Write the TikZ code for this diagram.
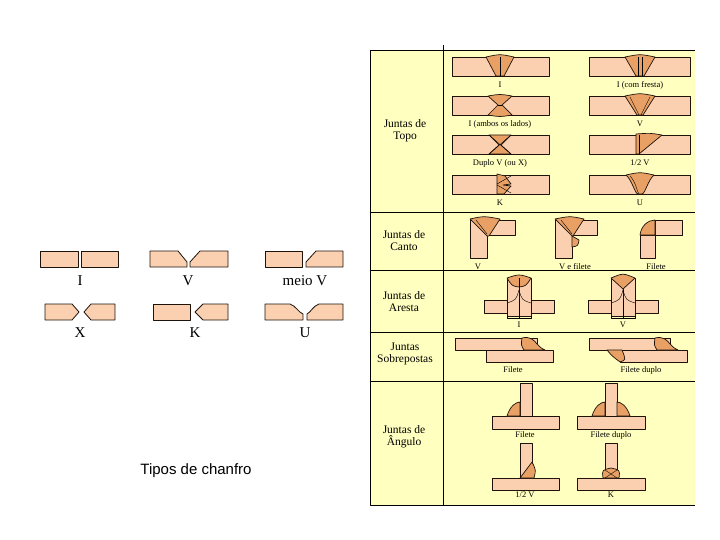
\documentclass[tikz,border=0pt]{standalone}
\usepackage{fontspec}
\setmainfont{Liberation Serif}
\newfontfamily\capfont{Liberation Sans}
\begin{document}
\begin{tikzpicture}[x=1pt,y=-1pt,line join=round,
  plate/.style={draw=black!85!brown,line width=0.8pt,fill=platec},
  weld/.style={draw=black!85!brown,line width=0.7pt,fill=weldc},
  lbl/.style={font=\fontsize{8.5}{9}\selectfont,inner sep=0pt},
  big/.style={font=\fontsize{15}{16}\selectfont,inner sep=0pt},
  head/.style={font=\fontsize{11.5}{12}\selectfont,align=center,inner sep=0pt}]
\definecolor{platec}{RGB}{250,208,176}
\definecolor{weldc}{RGB}{232,160,100}
\definecolor{tab}{RGB}{255,255,192}
\useasboundingbox (0,0) rectangle (720,540);
\fill[white] (0,0) rectangle (720,540);
% table
\fill[tab] (370,50) rectangle (695,505);
\draw[line width=0.8pt] (443,45) -- (443,505);
\draw[line width=0.8pt] (370,50) -- (695,50);
\draw[line width=0.8pt] (370,50) -- (370,505) -- (695,505);
\foreach \y in {212,270,332,381} \draw[line width=0.8pt] (370,\y) -- (695,\y);
\node[head] (h1) at (405,131) {Juntas de\\Topo};
\node[head] (h2) at (404,241) {Juntas de\\Canto};
\node[head] (h3) at (404,302) {Juntas de\\Aresta};
\node[head] (h4) at (405,354) {Juntas\\Sobrepostas};
\node[head] (h5) at (404,437) {Juntas de\\Ângulo};
% ---- Topo
\foreach \y in {57,96,135,175}{
  \draw[plate] (452,\y) rectangle (549,\y+19);
  \draw[plate] (589,\y) rectangle (690,\y+19);}
% I
\draw[weld] (486,57) .. controls (500,54) .. (514,57) -- (504,76) -- (496,76) -- cycle; \draw (500,57)--(500,76);
% I com fresta
\draw[weld] (625,57) .. controls (640,54) .. (655,57) -- (644,76) -- (636,76) -- cycle; \draw (638,57)--(638,76) (642,57)--(642,76);
% I ambos
\draw[weld] (488,96) .. controls (500,94) .. (512,96) -- (502,105) -- (512,115) .. controls (500,117) .. (488,115) -- (498,105) -- cycle;
\draw (498,105)..controls (500,104.5)..(502,105);
% V
\draw[weld] (625,96) .. controls (640,93) .. (655,96) -- (643,115) -- (637,115) -- cycle; \draw (630,97)--(639,115) (650,97)--(641,115);
% Duplo V
\draw[weld] (489,135) -- (511,135) -- (501,145) -- (511,154) -- (489,154) -- (499,145) -- cycle; \draw (489,135)--(511,154) (511,135)--(489,154);
% 1/2 V
\draw[weld] (636,134) .. controls (650,133) .. (662,135) -- (639,154) -- (636,154) -- cycle; \draw (639,135)--(639,154);
% K
\draw[weld] (497,174) -- (505,176) -- (511,184) -- (503,185) -- (511,186) -- (504,194) -- (497,194) -- cycle; \draw (497,184)--(511,176) (497,185)--(511,193);
% U
\draw[weld] (626,175) .. controls (640,172) .. (654,175) .. controls (648,180) and (645,194) .. (642,194) -- (638,194) .. controls (635,194) and (632,180) .. (626,175);
\draw (630,176) .. controls (636,182) and (637,192) .. (639,194);
\node[lbl] (t1) at (500,85) {I};
\node[lbl] (t2) at (640,85) {I (com fresta)};
\node[lbl] (t3) at (500,124) {I (ambos os lados)};
\node[lbl] (t4) at (640,124) {V};
\node[lbl] (t5) at (500,163) {Duplo V (ou X)};
\node[lbl] (t6) at (640,163) {1/2 V};
\node[lbl] (t7) at (500,203) {K};
\node[lbl] (t8) at (640,203) {U};
% ---- Canto
\draw[plate] (470,220) rectangle (487,258); \draw[plate] (487,220) rectangle (515,235);
\draw[weld] (470,219) .. controls (484,216) .. (500,219) -- (489,236) -- (487,236) -- cycle; \draw (476,220)--(487,234);
\draw[plate] (555,220) rectangle (572,258); \draw[plate] (572,220) rectangle (597,235);
\draw[weld] (555,219) .. controls (570,216) .. (584,219) -- (573,236) -- (572,236) -- cycle; \draw (561,220)--(572,234);
\draw[weld] (572,236) -- (572,247) .. controls (578,246) .. (579,240) -- cycle;
\draw[plate] (640,235) rectangle (655,258); \draw[plate] (655,220) rectangle (682,235);
\draw[weld] (640,235) .. controls (641,226) and (648,220) .. (655,220) -- (655,235) -- cycle;
\node[lbl] (c1) at (478,267) {V};
\node[lbl] (c2) at (575,267) {V e filete};
\node[lbl] (c3) at (656,267) {Filete};
% ---- Aresta
\foreach \cx/\l in {519/I,623/V}{
  \draw[plate] (\cx-35,300) rectangle (\cx-12,313);
  \draw[plate] (\cx+12,300) rectangle (\cx+35,313);
  \draw[plate] (\cx-12,278) rectangle (\cx,316);
  \draw[plate] (\cx,278) rectangle (\cx+12,316);
  \draw[line width=0.3pt] (\cx-12,316)--(\cx-12,318)--(\cx+12,318)--(\cx+12,316) (\cx,300)--(\cx,318);
  \draw[line width=0.4pt] (\cx-12,303) .. controls (\cx-3,300) .. (\cx,290) .. controls (\cx+3,300) .. (\cx+12,303);
  \node[lbl] at (\cx,325) {\l};}
\draw[weld] (507,278) .. controls (519,274) .. (531,278) .. controls (526,286) .. (519,287) .. controls (512,286) .. (507,278);
\draw (519,278)--(519,287);
\draw[weld] (611,278) .. controls (623,273) .. (635,278) -- (623,289) -- cycle;
% ---- Sobrepostas
\draw[plate] (486,350) rectangle (553,362);
\draw[plate] (455,338) rectangle (537,350);
\draw[weld] (522,338) .. controls (530,336) and (534,340) .. (537,344) .. controls (541,348) .. (545,350) -- (524,350) .. controls (521,345) .. (522,338);
\node[lbl] (s1) at (513,370) {Filete};
\draw[plate] (620,350) rectangle (687,362);
\draw[plate] (589,338) rectangle (670,350);
\draw[weld] (655,338) .. controls (663,336) and (667,340) .. (670,344) .. controls (674,348) .. (678,350) -- (657,350) .. controls (654,345) .. (655,338);
\draw[weld] (607,350) .. controls (612,356) .. (620,362) .. controls (626,360) .. (622,350) -- cycle;
\node[lbl] (s2) at (641,370) {Filete duplo};
% ---- Angulo
\draw[plate] (520,383) rectangle (532,416); \draw[plate] (492,416) rectangle (559,429);
\draw[weld] (507,416) .. controls (510,406) and (516,402) .. (520,402) -- (520,416) -- cycle;
\node[lbl] (a1) at (525,435) {Filete};
\draw[plate] (605,383) rectangle (617,416); \draw[plate] (577,416) rectangle (645,429);
\draw[weld] (592,416) .. controls (595,406) and (601,402) .. (605,402) -- (605,416) -- cycle;
\draw[weld] (630,416) .. controls (627,406) and (621,402) .. (617,402) -- (617,416) -- cycle;
\node[lbl] (a2) at (611,435) {Filete duplo};
\draw[plate] (520,443) rectangle (532,478); \draw[plate] (492,478) rectangle (559,490);
\draw[weld] (520,478) -- (532,462) .. controls (536,470) .. (534,478) -- cycle;
\node[lbl] (a3) at (525,495) {1/2 V};
\draw[plate] (605,443) rectangle (617,478); \draw[plate] (577,478) rectangle (645,490);
\draw[weld] (603,478) .. controls (602,470) .. (611,468) .. controls (620,470) .. (619,478) -- cycle;
\draw (605,470)--(617,478) (617,470)--(605,478);
\node[lbl] (a4) at (611,495) {K};
% ---- left chamfers
\draw[plate] (40,251) rectangle (78,267); \draw[plate] (81,251) rectangle (118,267);
\draw[plate] (150,251) -- (178,251) -- (187,262) -- (187,267) -- (150,267) -- cycle;
\draw[plate] (228,251) -- (200,251) -- (190,262) -- (190,267) -- (228,267) -- cycle;
\draw[plate] (265,251) rectangle (302,267);
\draw[plate] (343,251) -- (316,251) -- (306,262) -- (306,267) -- (343,267) -- cycle;
\node[big] (l1) at (80,281) {I};
\node[big] (l2) at (188,281) {V};
\node[big] (l3) at (305,281) {meio V};
\draw[plate] (45,304) -- (72,304) -- (79,312) -- (72,320) -- (45,320) -- cycle;
\draw[plate] (115,304) -- (91,304) -- (84,312) -- (91,320) -- (115,320) -- cycle;
\draw[plate] (153,304) rectangle (190,320);
\draw[plate] (228,304) -- (203,304) -- (195,312) -- (203,320) -- (228,320) -- cycle;
\draw[plate] (265,304) -- (290,304) .. controls (296,306) and (298,312) .. (303,314) -- (303,320) -- (265,320) -- cycle;
\draw[plate] (343,304) -- (319,304) .. controls (313,306) and (311,312) .. (307,314) -- (307,320) -- (343,320) -- cycle;
\node[big] (l4) at (80,333) {X};
\node[big] (l5) at (195,333) {K};
\node[big] (l6) at (305,333) {U};
\node[font=\capfont\fontsize{15}{17}\selectfont,inner sep=0pt] (cap) at (196,471) {Tipos de chanfro};
\end{tikzpicture}
\end{document}
